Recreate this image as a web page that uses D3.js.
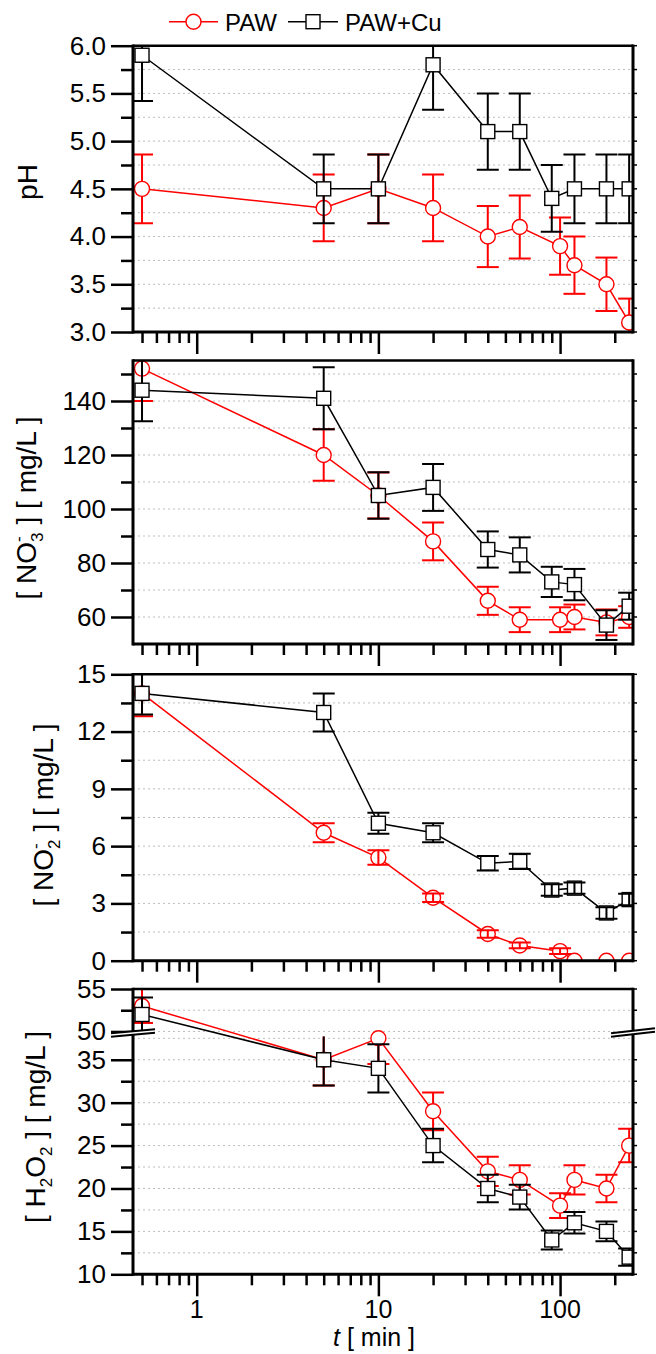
<!DOCTYPE html>
<html>
<head>
<meta charset="utf-8">
<script src="https://cdn.jsdelivr.net/npm/d3@7/dist/d3.min.js"></script>
<style>
body { margin: 0; background: #fff; }
text { font-family: "Liberation Sans", Arial, Helvetica, sans-serif; fill: #000; }
</style>
</head>
<body>
<script>
var W = 656, H = 1354;
var plotLeft = 133, plotRight = 633;

// sampling times [min]
var tPaw = [0.5, 5, 10, 20, 40, 60, 100, 120, 180, 240];
var tCu = [0.5, 5, 10, 20, 40, 60, 90, 120, 180, 240];

// pH
var phPaw = [4.5, 4.3, 4.5, 4.3, 4.0, 4.1, 3.9, 3.7, 3.5, 3.1];
var phPawErr = [0.36, 0.35, 0.36, 0.35, 0.32, 0.33, 0.3, 0.3, 0.28, 0.25];
var phCu = [5.9, 4.5, 4.5, 5.8, 5.1, 5.1, 4.4, 4.5, 4.5, 4.5];
var phCuErr = [0.48, 0.36, 0.36, 0.47, 0.4, 0.4, 0.35, 0.36, 0.36, 0.36];

// NO3- [mg/L]
var no3Paw = [152, 120, 105, 88, 66, 59, 59, 60, 58, 60];
var no3PawErr = [12, 9.5, 8.5, 7, 5.2, 4.6, 4.6, 4.6, 4.8, 4];
var no3Cu = [144, 141, 105, 108, 85, 83, 73, 72, 57, 64];
var no3CuErr = [11.5, 11.5, 8.6, 8.7, 6.7, 6.5, 5.6, 5.8, 5.5, 5];

// NO2- [mg/L]
var no2Paw = [14, 6.7, 5.4, 3.3, 1.4, 0.8, 0.5, 0, 0, 0];
var no2PawErr = [1.2, 0.5, 0.38, 0.22, 0.2, 0.15, 0.15, 0, 0, 0];
var no2Cu = [14, 13, 7.2, 6.7, 5.1, 5.2, 3.7, 3.8, 2.5, 3.2];
var no2CuErr = [1.1, 1.0, 0.55, 0.5, 0.38, 0.4, 0.3, 0.3, 0.3, 0.3];

// H2O2 [mg/L]
var h2o2Paw = [53, 35, 37.5, 29, 22, 21, 18, 21, 20, 25];
var h2o2PawErr = [2, 3, 3, 2.2, 1.7, 1.7, 1.45, 1.7, 1.6, 1.95];
var h2o2Cu = [52, 35, 34, 25, 20, 19, 14, 16, 15, 12];
var h2o2CuErr = [2, 3, 2.8, 1.95, 1.6, 1.45, 1.1, 1.25, 1.15, 1];

// ticks
var xMajor = [1, 10, 100];
var xMinor = [0.5, 0.6, 0.7, 0.8, 0.9, 2, 3, 4, 5, 6, 7, 8, 9, 20, 30, 40, 50, 60, 70, 80, 90, 200];
var phMajor = [3, 3.5, 4, 4.5, 5, 5.5, 6];
var phMinor = [3.25, 3.75, 4.25, 4.75, 5.25, 5.75];
var no3Major = [60, 80, 100, 120, 140];
var no3Minor = [70, 90, 110, 130, 150];
var no2Major = [0, 3, 6, 9, 12, 15];
var no2Minor = [1.5, 4.5, 7.5, 10.5, 13.5];
var h2o2Major = [10, 15, 20, 25, 30, 35];
var h2o2Minor = [12.5, 17.5, 22.5, 27.5, 32.5];
var h2o2Grid = [12.5, 15, 17.5, 20, 22.5, 25, 27.5, 30, 32.5, 35, 37.5];
var h2o2UpMajor = [50, 55];
var h2o2UpMinor = [52.5];

var svg = d3.select("body").append("svg").attr("width", W).attr("height", H);
var defs = svg.append("defs");

var x = d3.scaleLog().domain([0.446, 252]).range([plotLeft, plotRight]);

function inside(sc, arr) {
    var d = sc.domain();
    return arr.filter(function (v) { return v > Math.min(d[0], d[1]) + 1e-9 && v < Math.max(d[0], d[1]) - 1e-9; });
}

var panels = [
    {top: 45.7, bottom: 332, paw: phPaw, pawErr: phPawErr, cu: phCu, cuErr: phCuErr,
     segs: [{scale: d3.scaleLinear().domain([3, 6]).range([332, 45.7]), major: phMajor, minor: phMinor, fmt: d3.format(".1f")}]},
    {top: 360.5, bottom: 644, paw: no3Paw, pawErr: no3PawErr, cu: no3Cu, cuErr: no3CuErr,
     segs: [{scale: d3.scaleLinear().domain([50, 155]).range([644, 360.5]), major: no3Major, minor: no3Minor, fmt: d3.format("d")}]},
    {top: 674.3, bottom: 960.7, paw: no2Paw, pawErr: no2PawErr, cu: no2Cu, cuErr: no2CuErr,
     segs: [{scale: d3.scaleLinear().domain([0, 15]).range([960.7, 674.3]), major: no2Major, minor: no2Minor, fmt: d3.format("d")}]},
    {top: 989, bottom: 1274.3, paw: h2o2Paw, pawErr: h2o2PawErr, cu: h2o2Cu, cuErr: h2o2CuErr,
     segs: [{scale: d3.scaleLinear().domain([10, 37.7]).range([1274.3, 1036.6]), major: h2o2Major, minor: h2o2Minor, grid: h2o2Grid, fmt: d3.format("d"), lo: 0, hi: 45},
            {scale: d3.scaleLinear().domain([49.7, 55]).range([1034, 989]), major: h2o2UpMajor, minor: h2o2UpMinor, fmt: d3.format("d"), lo: 45, hi: 1e9}]}
];

function segOf(p, v) {
    if (p.segs.length == 1) return p.segs[0];
    for (var i = 0; i < p.segs.length; i++) {
        if (v >= p.segs[i].lo && v < p.segs[i].hi) return p.segs[i];
    }
    return p.segs[0];
}

panels.forEach(function (p, pi) {
    p.id = "clip" + pi;
    defs.append("clipPath").attr("id", p.id).append("rect")
        .attr("x", plotLeft).attr("y", p.top).attr("width", plotRight - plotLeft).attr("height", p.bottom - p.top);
    p.segs.forEach(function (s, si) {
        s.id = "clip" + pi + "_" + si;
        var r = s.scale.range();
        defs.append("clipPath").attr("id", s.id).append("rect")
            .attr("x", plotLeft).attr("y", r[1]).attr("width", plotRight - plotLeft).attr("height", r[0] - r[1]);
    });
});

function drawSeries(p, ts, vals, errs, color, shape) {
    var g = svg.append("g");
    var pts = ts.map(function (t, i) {
        var s = segOf(p, vals[i]);
        return {x: x(t), y: s.scale(vals[i]), v: vals[i], e: errs[i], s: s};
    });
    var line = d3.line().x(function (d) { return d.x; }).y(function (d) { return d.y; });
    g.append("path").attr("d", line(pts)).attr("fill", "none")
        .attr("stroke", color).attr("stroke-width", 1.5).attr("clip-path", "url(#" + p.id + ")");

    var r = shape == "circle" ? 7.5 : 7;
    pts.forEach(function (d) {
        var mg = g.append("g").attr("clip-path", "url(#" + p.id + ")");
        if (shape == "circle") {
            mg.append("circle").attr("cx", d.x).attr("cy", d.y).attr("r", r)
                .attr("fill", "#fff").attr("stroke", color).attr("stroke-width", 1.4);
        } else {
            mg.append("rect").attr("x", d.x - r).attr("y", d.y - r).attr("width", 2 * r).attr("height", 2 * r)
                .attr("fill", "#fff").attr("stroke", color).attr("stroke-width", 1.4);
        }
        if (!d.e) return;
        // error bar, drawn from the marker edge out unless it is shorter than the marker
        var eg = g.append("g").attr("clip-path", "url(#" + d.s.id + ")")
            .attr("stroke", color).attr("stroke-width", 2);
        var yHi = d.s.scale(d.v + d.e), yLo = d.s.scale(d.v - d.e);
        if (d.y - yHi > r) {
            eg.append("line").attr("x1", d.x).attr("x2", d.x).attr("y1", yHi).attr("y2", d.y - r);
            eg.append("line").attr("x1", d.x).attr("x2", d.x).attr("y1", d.y + r).attr("y2", yLo);
        } else {
            eg.append("line").attr("x1", d.x).attr("x2", d.x).attr("y1", yHi).attr("y2", yLo);
        }
        eg.selectAll(".cap").data([yHi, yLo]).enter().append("line")
            .attr("x1", d.x - 11).attr("x2", d.x + 11).attr("y1", function (v) { return v; }).attr("y2", function (v) { return v; });
    });
}

panels.forEach(function (p, pi) {
    // dotted grid
    p.segs.forEach(function (s) {
        var grid = s.grid || inside(s.scale, s.major.concat(s.minor));
        svg.append("g").selectAll("line").data(grid).enter().append("line")
            .attr("x1", plotLeft).attr("x2", plotRight)
            .attr("y1", s.scale).attr("y2", s.scale)
            .attr("stroke", "#bdbdbd").attr("stroke-width", 1).attr("stroke-dasharray", "2,3");
    });

    drawSeries(p, tPaw, p.paw, p.pawErr, "#ff0000", "circle");
    drawSeries(p, tCu, p.cu, p.cuErr, "#000", "square");

    // frame
    svg.append("line").attr("x1", plotLeft).attr("x2", plotRight).attr("y1", p.top).attr("y2", p.top)
        .attr("stroke", "#000").attr("stroke-width", 2.5);
    svg.append("line").attr("x1", plotLeft).attr("x2", plotRight).attr("y1", p.bottom).attr("y2", p.bottom)
        .attr("stroke", "#000").attr("stroke-width", 3);
    svg.append("line").attr("x1", plotLeft).attr("x2", plotLeft).attr("y1", p.top - 1.2).attr("y2", p.bottom + 1.5)
        .attr("stroke", "#000").attr("stroke-width", 3);
    svg.append("line").attr("x1", plotRight).attr("x2", plotRight).attr("y1", p.top - 1.2).attr("y2", p.bottom + 1.5)
        .attr("stroke", "#000").attr("stroke-width", 3);

    // left axis ticks
    p.segs.forEach(function (s) {
        var gMaj = svg.append("g").attr("transform", "translate(" + plotLeft + ",0)")
            .call(d3.axisLeft(s.scale).tickValues(s.major).tickSize(22).tickSizeOuter(0).tickPadding(5).tickFormat(s.fmt));
        var gMin = svg.append("g").attr("transform", "translate(" + plotLeft + ",0)")
            .call(d3.axisLeft(s.scale).tickValues(s.minor).tickSize(12).tickSizeOuter(0).tickFormat(""));
        [gMaj, gMin].forEach(function (ga) {
            ga.select(".domain").remove();
            ga.selectAll(".tick line").attr("stroke", "#000").attr("stroke-width", 2.5);
        });
        gMaj.selectAll(".tick text").attr("font-size", 26).attr("font-family", "Liberation Sans, Arial, sans-serif").attr("fill", "#000");
        // little ticks on the right side
        svg.append("g").selectAll("line").data(s.major.concat(s.minor)).enter().append("line")
            .attr("x1", plotRight).attr("x2", plotRight + 4)
            .attr("y1", s.scale).attr("y2", s.scale)
            .attr("stroke", "#000").attr("stroke-width", 1.5);
    });

    // bottom log ticks
    var bMaj = svg.append("g").attr("transform", "translate(0," + p.bottom + ")")
        .call(d3.axisBottom(x).tickValues(xMajor).tickSize(22).tickSizeOuter(0).tickFormat(""));
    var bMin = svg.append("g").attr("transform", "translate(0," + p.bottom + ")")
        .call(d3.axisBottom(x).tickValues(xMinor).tickSize(11).tickSizeOuter(0).tickFormat(""));
    [bMaj, bMin].forEach(function (ga) {
        ga.select(".domain").remove();
        ga.selectAll(".tick line").attr("stroke", "#000").attr("stroke-width", 2.5);
    });
});

// axis break on the H2O2 panel
[[111, 155, 1035, 1031], [611, 655, 1035, 1030]].forEach(function (b) {
    var gap = 3.4;
    svg.append("polygon")
        .attr("points", [[b[0], b[2] - gap / 2], [b[1], b[3] - gap / 2], [b[1], b[3] + gap / 2], [b[0], b[2] + gap / 2]].join(" "))
        .attr("fill", "#fff");
    [-gap / 2, gap / 2].forEach(function (o) {
        svg.append("line").attr("x1", b[0]).attr("y1", b[2] + o).attr("x2", b[1]).attr("y2", b[3] + o)
            .attr("stroke", "#000").attr("stroke-width", 2);
    });
});

// x tick labels and title
svg.append("g").selectAll("text").data(xMajor).enter().append("text")
    .attr("x", x).attr("y", 1318).attr("text-anchor", "middle").attr("font-size", 25)
    .text(function (d) { return d; });
var xt = svg.append("text").attr("x", 374).attr("y", 1346).attr("text-anchor", "middle").attr("font-size", 25);
xt.append("tspan").attr("font-style", "italic").text("t");
xt.append("tspan").text(" [ min ]");

// y titles
function yTitle(cx, cy) {
    return svg.append("text").attr("transform", "translate(" + cx + "," + cy + ") rotate(-90)")
        .attr("text-anchor", "middle").attr("font-size", 28);
}
yTitle(37, 182).text("pH");

var t2 = yTitle(36, 508);
t2.append("tspan").text("[ NO");
t2.append("tspan").attr("font-size", 17).attr("dy", 7).text("3");
t2.append("tspan").attr("font-size", 17).attr("dx", -9.5).attr("dy", -19).text("-");
t2.append("tspan").attr("dx", 4).attr("dy", 12).text(" ] [ mg/L ]");

var t3 = yTitle(53, 815);
t3.append("tspan").text("[ NO");
t3.append("tspan").attr("font-size", 17).attr("dy", 7).text("2");
t3.append("tspan").attr("font-size", 17).attr("dx", -9.5).attr("dy", -19).text("-");
t3.append("tspan").attr("dx", 4).attr("dy", 12).text(" ] [ mg/L ]");

var t4 = yTitle(45, 1127);
t4.append("tspan").text("[ H");
t4.append("tspan").attr("font-size", 17).attr("dy", 7).text("2");
t4.append("tspan").attr("dy", -7).text("O");
t4.append("tspan").attr("font-size", 17).attr("dy", 7).text("2");
t4.append("tspan").attr("dy", -7).text(" ] [ mg/L ]");

// legend
var lg = svg.append("g");
lg.append("line").attr("x1", 169).attr("x2", 218).attr("y1", 21.7).attr("y2", 21.7).attr("stroke", "#ff0000").attr("stroke-width", 1.5);
lg.append("circle").attr("cx", 193.5).attr("cy", 21.7).attr("r", 7.5).attr("fill", "#fff").attr("stroke", "#ff0000").attr("stroke-width", 1.4);
lg.append("text").attr("x", 225).attr("y", 31).attr("font-size", 24).text("PAW");
lg.append("line").attr("x1", 288).attr("x2", 338).attr("y1", 21.7).attr("y2", 21.7).attr("stroke", "#000").attr("stroke-width", 1.5);
lg.append("rect").attr("x", 306).attr("y", 14.7).attr("width", 14).attr("height", 14).attr("fill", "#fff").attr("stroke", "#000").attr("stroke-width", 1.4);
lg.append("text").attr("x", 345).attr("y", 31).attr("font-size", 24).text("PAW+Cu");
</script>
</body>
</html>
